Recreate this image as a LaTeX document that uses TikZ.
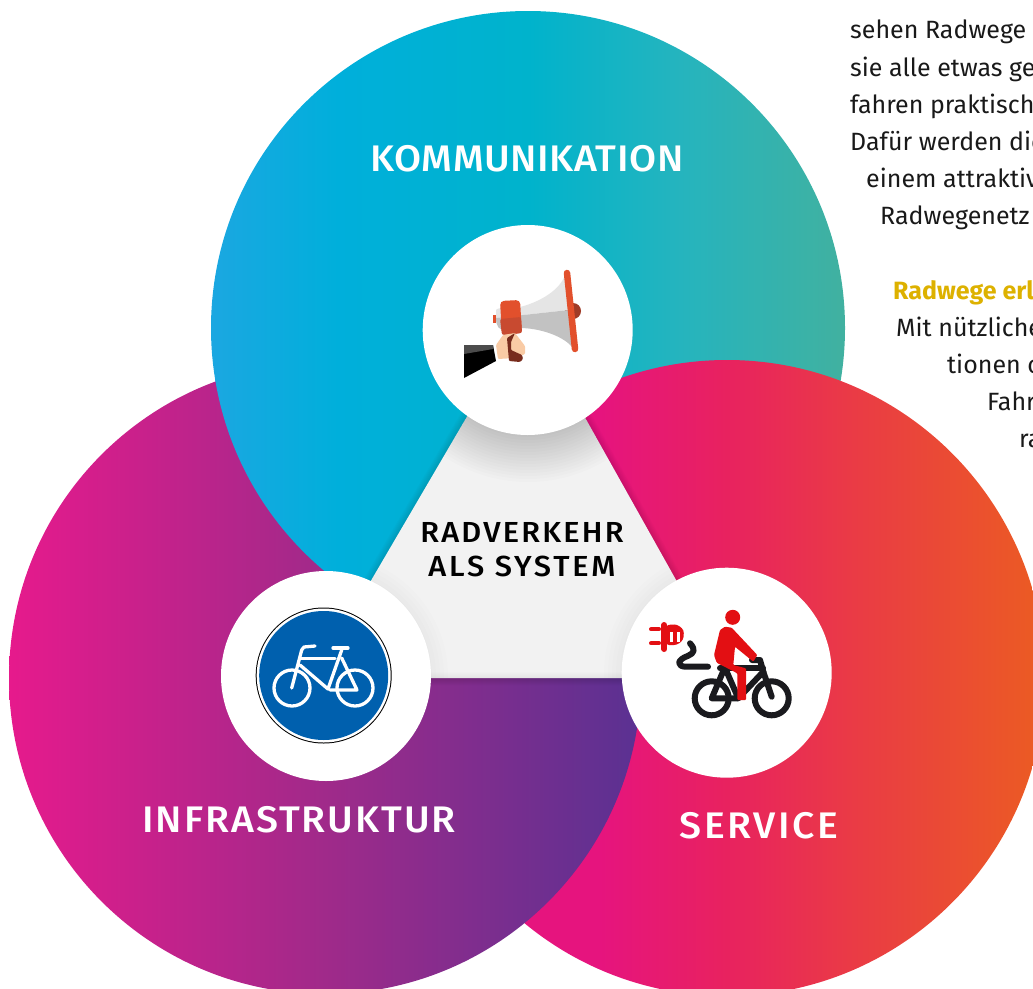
\documentclass[tikz,border=0pt]{standalone}
\usepackage{fontspec}
\setmainfont{Fira Sans}
\newfontfamily\headfont[FakeStretch=1.06]{Fira Sans Medium}
\usetikzlibrary{calc,positioning}

\definecolor{skyblue}{HTML}{1BA7E1}
\definecolor{cyanblue}{HTML}{00AFDB}
\definecolor{tealblue}{HTML}{00B3CC}
\definecolor{paleteal}{HTML}{25B4BE}
\definecolor{seagreen}{HTML}{41B1A0}
\definecolor{hotpink}{HTML}{E6147E}
\definecolor{rosered}{HTML}{E8225F}
\definecolor{signalred}{HTML}{EA3B45}
\definecolor{burnt}{HTML}{EB5C22}
\definecolor{magentared}{HTML}{E61A8C}
\definecolor{plum}{HTML}{A02A8A}
\definecolor{violet}{HTML}{5A3192}
\definecolor{horncolor}{HTML}{E2502C}
\definecolor{horndark}{HTML}{C84A30}
\definecolor{signblue}{HTML}{0060AE}
\definecolor{plugred}{HTML}{E30F13}
\definecolor{bikeblack}{HTML}{1A1A1E}
\definecolor{goldtext}{HTML}{DDB100}
\definecolor{skin}{HTML}{F9CBA5}

\pgfdeclarehorizontalshading{topshade}{100bp}{color(0bp)=(skyblue); color(25bp)=(skyblue); color(35bp)=(cyanblue); color(50bp)=(tealblue); color(62bp)=(paleteal); color(75bp)=(seagreen); color(100bp)=(seagreen)}
\pgfdeclarehorizontalshading{rightshade}{100bp}{color(0bp)=(hotpink); color(40bp)=(hotpink); color(50bp)=(rosered); color(60bp)=(signalred); color(75bp)=(burnt); color(100bp)=(burnt)}
\pgfdeclarehorizontalshading{leftshade}{100bp}{color(0bp)=(magentared); color(25bp)=(magentared); color(50bp)=(plum); color(75bp)=(violet); color(100bp)=(violet)}

\newcommand{\tracked}[2]{\addfontfeature{LetterSpace=#1}#2}

\tikzset{
    bodyline/.style={anchor=base west, inner sep=0pt, font=\fontsize{25}{30}\selectfont, text=black!90},
    headline/.style={anchor=base, inner sep=0pt, font=\headfont\fontsize{37}{44}\selectfont, text=white},
    centerline/.style={anchor=base, inner sep=0pt, font=\headfont\fontsize{29}{35}\selectfont, text=black},
    whitedisc/.style={circle, fill=white, minimum size=210pt, inner sep=0pt},
    signstroke/.style={draw=white, line width=3.3pt, line cap=round, line join=round},
    bikestroke/.style={draw=bikeblack, line width=6pt, line cap=round, line join=round},
}

\begin{document}
\begin{tikzpicture}[x=1pt, y=-1pt]

    \useasboundingbox (0,0) rectangle (1033,988);

    \coordinate (T) at (528,328);
    \coordinate (L) at (325,678);
    \coordinate (R) at (727,678);
    \coordinate (A) at (527,314);
    \coordinate (B) at (314,678);
    \coordinate (C) at (731,678);

    % three discs, each one over the next
    \shade[shading=topshade] (T) circle (317);
    \shade[shading=rightshade] (R) circle (318);
    \shade[shading=leftshade] (L) circle (316);
    \begin{scope}
        \clip (L) circle (319);
        \shade[shading=topshade] (T) circle (317);
    \end{scope}

    % soft rim round the middle
    \foreach \w in {2,4,...,14}
        \draw[black, opacity=.014, line width=\w pt, line join=round] (A) -- (B) -- (C) -- cycle;

    \fill[black!5] (A) -- (B) -- (C) -- cycle;
    \begin{scope}
        \clip (A) -- (B) -- (C) -- cycle;
        \foreach \r in {106,109,...,151}
            \fill[black, opacity=.012] (528,331) circle (\r);
        \foreach \r in {106,110,...,122} {
            \fill[black, opacity=.008] (326,676) circle (\r);
            \fill[black, opacity=.008] (726,673) circle (\r);
        }
        \foreach \w in {2,4,...,12}
            \draw[black, opacity=.006, line width=\w pt] (B) -- (C);
    \end{scope}

    \node[whitedisc] (topdisc) at (527.7,330) {};
    \node[whitedisc] (leftdisc) at (326,676) {};
    \node[whitedisc] (rightdisc) at (726.7,672.7) {};

    % headings
    \node[headline] (komm) at (527,171) {\tracked{1.6}{KOMMUNIKATION}};
    \node[headline] (infra) at (299,832) {\tracked{5.4}{INFRASTRUKTUR}};
    \node[headline] (serv) at (759,838) {\tracked{7.2}{SERVICE}};
    \node[centerline] (rad) at (522,542) {\tracked{7.6}{RADVERKEHR}};
    \node[centerline] (als) at (522,576) {\tracked{9.6}{ALS SYSTEM}};

    % megaphone
    \fill[horndark!80!black] (573,311) circle (8);
    \fill[black!10] (496,318) -- (496,310) .. controls (498,307) and (510,308) .. (520,307) .. controls (540,302) and (560,290) .. (565,275) -- (569,310) -- cycle;
    \fill[black!24] (496,318) -- (569,310) -- (572,347) .. controls (565,338) and (545,329) .. (522,328) .. controls (510,329) and (496,336) .. (496,318) -- cycle;
    \draw[horncolor, line width=6.5pt, line cap=round] (567,273) -- (575,349);
    \fill[horncolor, rounded corners=4pt] (500,301) -- (520,300) -- (522,333) -- (502,335) -- cycle;
    \fill[horndark, rounded corners=2pt] (500,319) -- (521,317) -- (522,333) -- (502,335) -- cycle;
    \fill[horncolor] (493,315) rectangle (496,323);
    \fill[skin, rounded corners=1pt] (496,345) -- (503,335) -- (515,333) -- (525,346) -- (525,354) -- (515,358) -- (498,359) -- cycle;
    \fill[horndark!60!black, rounded corners=1pt] (507,338) -- (515,333) -- (511,342) -- (511,350) -- (522,355) -- (523,359) -- (520,362) -- (509,361) -- cycle;
    \fill[black] (464,345) -- (493,345) -- (496,361) -- (464,378) -- cycle;
    \fill[black!70] (464,345) -- (493,345) -- (493,349) -- (464,354) -- cycle;

    % cycle path sign
    \fill[black] (323.7,675.5) circle (68);
    \fill[white] (323.7,675.5) circle (67);
    \fill[signblue] (323.7,675.5) circle (64.5);
    \draw[signstroke] (292,688) circle (18);
    \draw[signstroke] (355,688) circle (18);
    \draw[signstroke] (291.7,688) -- (301.7,650) -- (304,647) -- (315,646);
    \draw[signstroke] (301,658.3) -- (335,658.3);
    \draw[signstroke] (300,665) -- (328,689) -- (341.7,650);
    \draw[signstroke] (341.7,658) -- (357,690) -- (330,690);
    \draw[signstroke] (333,648) -- (348,648);

    % e-bike
    \draw[bikestroke] (711.7,698.3) circle (17);
    \draw[bikestroke] (771.7,698.3) circle (17);
    \draw[bikestroke] (752,660) -- (760,660) -- (763.3,671.7) -- (771.7,696.7);
    \draw[bikestroke] (720,668.3) -- (763,668.3);
    \draw[bikestroke] (723,671.7) -- (711.7,698.3) -- (738,698.3);
    \draw[bikestroke] (726.7,671.7) -- (738.3,698.3) -- (763.3,671.7);
    \draw[bikestroke] (690,643.3) .. controls (696,650) and (694,653) .. (688.3,655.7) .. controls (676,660) and (677,666.7) .. (686,666.7) -- (708,666.7);
    \fill[plugred] (732.7,617.3) circle (7.5);
    \fill[plugred, rounded corners=1pt] (725,626.7) -- (731.7,627.7) -- (757.3,655) -- (753.3,661.7) -- (735,646.7) -- (733.3,665) -- (746,668.3) -- (746,700) -- (737.3,700) -- (737.3,673.3) -- (716.7,662.7) -- (714,655) -- (720,630) -- cycle;
    \draw[plugred, line width=6pt, line cap=round] (664.3,625) -- (664.3,649);
    \fill[plugred, rounded corners=3pt] (666,625) -- (677,624.3) -- (684,630) -- (683.3,640) -- (677,645) -- (666,645) -- cycle;
    \fill[white] (670,631.7) rectangle (673.3,642.3);
    \fill[white] (676.7,631.7) rectangle (680,642.3);
    \draw[plugred, line width=4pt, line cap=round] (651,629.3) -- (659,629.3);
    \draw[plugred, line width=4pt, line cap=round] (651,643.3) -- (659,643.3);

    % column of text beside the picture
    \node[bodyline] (lineb) at (850,38) {sehen Radwege u};
    \node[bodyline] (linec) at (850,76) {sie alle etwas ger};
    \node[bodyline] (lined) at (850,113) {fahren praktisch};
    \node[bodyline] (linee) at (850,150) {Dafür werden die};
    \node[bodyline] (linef) at (866,187) {einem attraktiv};
    \node[bodyline] (lineg) at (880,224) {Radwegenetz};
    \node[bodyline, text=goldtext, font=\bfseries\fontsize{25}{30}\selectfont] (lineh) at (893,299) {Radwege erl};
    \node[bodyline] (linei) at (896,336) {Mit nützliche};
    \node[bodyline] (linej) at (947,373) {tionen o};
    \node[bodyline] (linek) at (987,410) {Fahr};
    \node[bodyline] (linel) at (1019,447) {ra};

\end{tikzpicture}
\end{document}
